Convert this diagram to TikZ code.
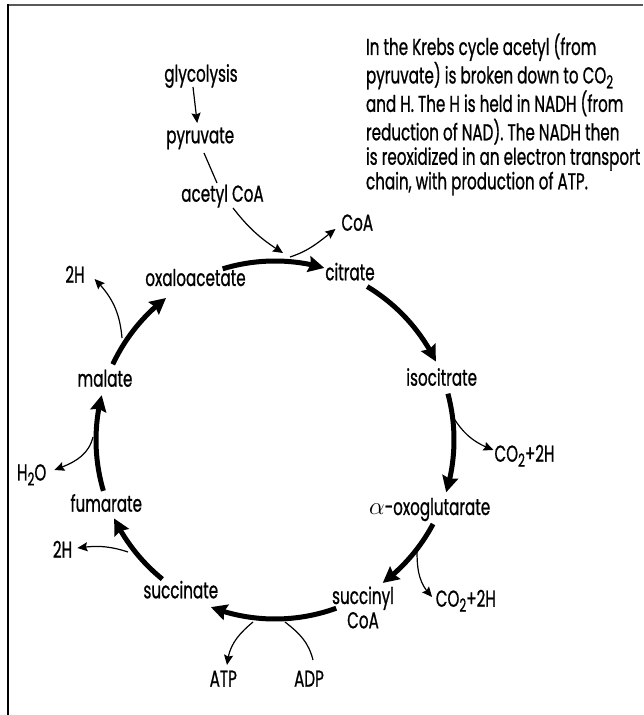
\documentclass[tikz,border=0pt]{standalone}
\usepackage{fontspec}
\setmainfont{Poppins}[FakeStretch=0.66,FakeBold=0.8]
\usetikzlibrary{arrows.meta,bending,calc}
\newcommand\lowsub[1]{\raisebox{-5pt}{\fontsize{18}{18}\selectfont #1}}
\begin{document}
\begin{tikzpicture}[x=1pt,y=1pt,
  lbl/.style={inner sep=0pt, outer sep=0pt, font=\fontsize{23}{24.3}\selectfont, anchor=base},
  cyc/.style={line width=5pt, -{Stealth[length=16pt,width=16pt,inset=2pt]}},
  thinarr/.style={line width=1.2pt, -{Stealth[length=10pt,width=9pt,inset=1.5pt]}},
  thinline/.style={line width=1.2pt}]
\useasboundingbox (0,0) rectangle (643,715);
% frame
\draw[line width=2.5pt, black!65] (7,710) -- (643,710);
\draw[line width=2pt] (8,711) -- (8,0);
% explanatory text
\node[lbl, anchor=base west, font=\fontsize{23}{23.2}\selectfont] (para) at (366,660)
 {\begin{tabular}[t]{@{}l@{}}
 In the Krebs cycle acetyl (from\\
 pyruvate) is broken down to CO\lowsub{2}\\
 and H. The H is held in NADH (from\\
 reduction of NAD). The NADH then\\
 is reoxidized in an electron transport\\
 chain, with production of ATP.
 \end{tabular}};
% labels
\node[lbl] (glyco) at (201,633.3) {glycolysis};
\node[lbl] (pyr) at (200.2,571.7) {pyruvate};
\node[lbl] (acetyl) at (222.5,513.3) {acetyl CoA};
\node[lbl] (CoA) at (357.3,484.3) {CoA};
\node[lbl] (citrate) at (350,434.7) {citrate};
\node[lbl] (oxalo) at (195.5,429) {oxaloacetate};
\node[lbl] (twoHa) at (75,432.3) {2H};
\node[lbl] (malate) at (105,328.3) {malate};
\node[lbl] (isocit) at (441.7,329.3) {isocitrate};
\node[lbl] (co2a) at (524.5,253.3) {CO\lowsub{2}+2H};
\node[lbl] (hto) at (31.7,234.5) {H\lowsub{2}O};
\node[lbl] (fumarate) at (106.3,203.3) {fumarate};
\node[lbl] (twoHb) at (62.5,157.3) {2H};
\node[lbl] (alpha) at (429.7,200) {$\alpha$-oxoglutarate};
\node[lbl] (succoa) at (363,111) {\begin{tabular}[t]{@{}c@{}}succinyl\\CoA\end{tabular}};
\node[lbl] (co2b) at (465.8,108.3) {CO\lowsub{2}+2H};
\node[lbl] (succinate) at (180.8,116.7) {succinate};
\node[lbl] (ATP) at (223.3,28.3) {ATP};
\node[lbl] (ADP) at (309,28.3) {ADP};
% cycle
\coordinate (ctr) at (275,275);
\path (ctr) ++(107:179) coordinate (oxOut);
\path (ctr) ++(59:179) coordinate (citOut);
\path (ctr) ++(15:179) coordinate (isoOut);
\path (ctr) ++(-28:179) coordinate (akgOut);
\path (ctr) ++(-70:179) coordinate (scoaOut);
\path (ctr) ++(-129:179) coordinate (sucOut);
\path (ctr) ++(-163.5:179) coordinate (fumOut);
\path (ctr) ++(155:179) coordinate (malOut);
\draw[cyc] (oxOut) arc[start angle=107,end angle=74,radius=179];
\draw[cyc] (citOut) arc[start angle=59,end angle=26,radius=179];
\draw[cyc] (isoOut) arc[start angle=15,end angle=-17,radius=179];
\draw[cyc] (akgOut) arc[start angle=-28,end angle=-53,radius=179];
\draw[cyc] (scoaOut) arc[start angle=-70,end angle=-111,radius=179];
\draw[cyc] (sucOut) arc[start angle=-129,end angle=-154,radius=179];
\draw[cyc] (fumOut) arc[start angle=-163.5,end angle=-194.5,radius=179];
\draw[cyc] (malOut) arc[start angle=155,end angle=127.5,radius=179];
% junction points on the cycle
\coordinate (jA) at (283,462);
\coordinate (jCoA) at (290,458);
\coordinate (j2Ha) at (122,377);
\coordinate (jCO2a) at (453,298);
\coordinate (jH2O) at (93,278);
\coordinate (j2Hb) at (128,163);
\coordinate (jCO2b) at (417,165);
\coordinate (jATP) at (253,93);
\coordinate (jADP) at (285,93);
% side connectors
\draw[thinarr] ([shift={(-8,-5.3)}]glyco.base) -- ([shift={(-3,20.3)}]pyr.base);
\draw[thinline] ([shift={(3.8,-9.7)}]pyr.base) -- ([shift={(-5.5,18.7)}]acetyl.base);
\draw[thinarr] ([shift={(10.5,-6.3)}]acetyl.base) to[out=-52,in=148] (jA);
\draw[thinarr] (jCoA) to[out=18,in=-142] ([shift={(-6,1.7)}]CoA.base west);
\draw[thinarr] (j2Ha) to[out=95,in=-45] ([shift={(10,3.7)}]twoHa.base east);
\draw[thinarr] (jCO2a) to[out=-58,in=160] ([shift={(-1,11.7)}]co2a.base west);
\draw[thinarr] (jH2O) to[out=-104,in=20] ([shift={(8,10.5)}]hto.base east);
\draw[thinarr] (j2Hb) to[out=162,in=8] ([shift={(5.3,9.7)}]twoHb.base east);
\draw[thinarr] (jCO2b) to[out=-90,in=135] ([shift={(-3.7,9.7)}]co2b.base west);
\draw[thinarr] (jATP) to[out=-140,in=85] ([shift={(3.7,21.7)}]ATP.base);
\draw[thinline] (jADP) to[out=-38,in=104] ([shift={(4,26.7)}]ADP.base);
\end{tikzpicture}
\end{document}
